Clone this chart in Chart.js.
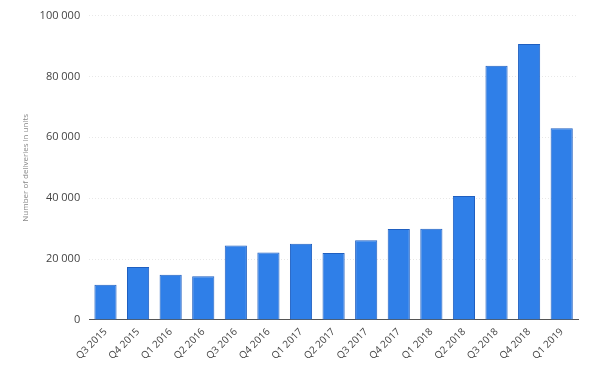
<!DOCTYPE html>
<html>
<head>
<meta charset="utf-8">
<script src="https://cdn.jsdelivr.net/npm/chart.js@4/dist/chart.umd.min.js"></script>
<style>
  html, body { margin: 0; padding: 0; background: #fff; }
  #wrap { width: 600px; height: 380px; }
</style>
</head>
<body>
<div id="wrap"><canvas id="myChart" width="600" height="380"></canvas></div>
<script>
const quarters = ['Q3 2015', 'Q4 2015', 'Q1 2016', 'Q2 2016', 'Q3 2016', 'Q4 2016', 'Q1 2017', 'Q2 2017',
  'Q3 2017', 'Q4 2017', 'Q1 2018', 'Q2 2018', 'Q3 2018', 'Q4 2018', 'Q1 2019'];
const deliveries = [11580, 17400, 14820, 14370, 24500, 22200, 25000, 22000,
  26150, 29870, 29980, 40740, 83500, 90700, 63000];
const yTicks = [0, 20000, 40000, 60000, 80000, 100000];

function fmt(v) {
  return String(v).replace(/\B(?=(\d{3})+(?!\d))/g, ' ');
}

const ctx = document.getElementById('myChart').getContext('2d');
const chart = new Chart(ctx, {
  type: 'bar',
  data: {
    labels: quarters,
    datasets: [{
      label: 'Deliveries',
      data: deliveries,
      backgroundColor: '#2f7fe8',
      borderColor: '#1f5fc0',
      borderWidth: 1,
      barPercentage: 0.68,
      categoryPercentage: 1,
    }],
  },
  options: {
    responsive: false,
    animation: false,
    layout: { padding: { top: 4, right: 22, left: 17, bottom: 12 } },
    plugins: {
      legend: { display: false },
      tooltip: { enabled: false },
    },
    scales: {
      x: {
        grid: { display: false, drawTicks: false },
        border: { color: '#555', width: 1 },
        ticks: {
          color: '#444',
          font: { family: 'Open Sans', size: 10 },
          maxRotation: 45,
          minRotation: 45,
          padding: 6,
        },
      },
      y: {
        min: 0,
        max: 100000,
        afterBuildTicks: function (axis) {
          axis.ticks = yTicks.map(function (v) { return { value: v }; });
        },
        grid: {
          color: '#e8e8e8',
          drawTicks: false,
        },
        border: { display: false, dash: [1, 2] },
        ticks: {
          color: '#444',
          font: { family: 'Open Sans', size: 11 },
          padding: 9,
          callback: function (v) { return fmt(v); },
        },
        title: {
          display: true,
          text: 'Number of deliveries in units',
          color: '#888',
          font: { family: 'Open Sans', size: 8 },
          padding: { bottom: 0 },
        },
      },
    },
  },
});
</script>
</body>
</html>
